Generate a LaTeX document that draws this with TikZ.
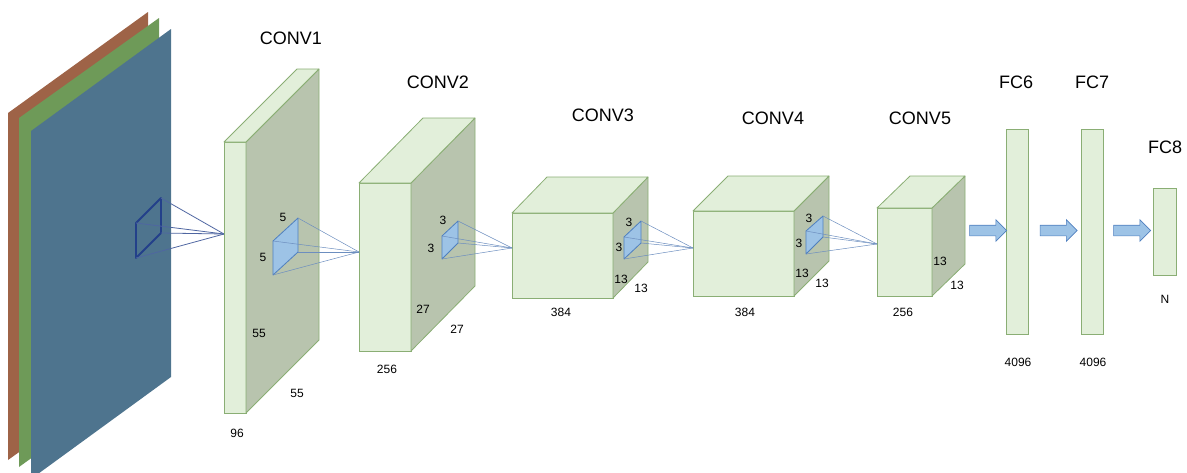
\documentclass[tikz,border=0pt]{standalone}
\usepackage{fontspec}
\setmainfont{Liberation Sans}
\usepackage{xcolor}
\usepackage{tikz}
\definecolor{facegreen}{RGB}{226, 239, 218}
\definecolor{sidegreen}{RGB}{184, 196, 174}
\definecolor{edgegreen}{RGB}{138, 174, 116}
\definecolor{kernelblue}{RGB}{157, 195, 230}
\definecolor{kerneledge}{RGB}{79, 127, 191}
\definecolor{rayblue}{RGB}{108, 142, 191}
\definecolor{imgred}{RGB}{158, 99, 71}
\definecolor{imggreen}{RGB}{110, 154, 88}
\definecolor{imgblue}{RGB}{78, 116, 142}
\definecolor{windowblue}{RGB}{35, 64, 138}
\usetikzlibrary{shapes, arrows, positioning, calc}

\begin{document}
\begin{tikzpicture}[
    x=1pt, y=-1pt,
    face/.style={rectangle, draw=edgegreen, fill=facegreen, inner sep=0pt, outer sep=0pt, line width=0.8pt},
    side/.style={draw=edgegreen, fill=sidegreen, line width=0.8pt, line join=round},
    topface/.style={draw=edgegreen, fill=facegreen, line width=0.8pt, line join=round},
    kernel/.style={draw=kerneledge, fill=kernelblue, line width=0.8pt, line join=round},
    ray/.style={draw=rayblue, line width=0.5pt},
    title/.style={font=\fontsize{18}{20}\selectfont},
    dim/.style={font=\fontsize{12}{14}\selectfont},
    fcarrow/.style={single arrow, draw=kerneledge, fill=kernelblue, line width=0.6pt, minimum height=37pt, inner xsep=0pt, inner ysep=5pt, single arrow head extend=5.5pt}
]
    \clip (0,0) rectangle (1187,472);

    % input image
    \fill[imgred] (8,113) -- (148,12) -- (148,360) -- (8,460) -- cycle;
    \fill[imggreen] (19,118) -- (159,18) -- (159,366) -- (19,467) -- cycle;
    \fill[imgblue] (31,131) -- (171,29) -- (171,377) -- (31,479) -- cycle;

    \coordinate (w1) at (136,223);
    \coordinate (w2) at (161,198);
    \coordinate (w3) at (161,233);
    \coordinate (w4) at (136,258);
    \coordinate (in1) at (224,234);
    \draw[windowblue, line width=1.8pt, line join=round] (w1) -- (w2) -- (w3) -- (w4) -- cycle;
    \foreach \c in {w1, w2, w3, w4}
        \draw[draw=windowblue!80, line width=0.8pt] (\c) -- (in1);

    % conv layers
    \node[face, minimum width=22pt, minimum height=271pt] (conv1) at (235,277.5) {};
    \filldraw[side] (conv1.north east) -- ++(73,-73) -- ++(0,271) -- (conv1.south east) -- cycle;
    \filldraw[topface] (conv1.north west) -- ++(73,-73) -- ++(22,0) -- (conv1.north east) -- cycle;

    \node[face, minimum width=52pt, minimum height=168pt] (conv2) at (385,267) {};
    \filldraw[side] (conv2.north east) -- ++(64,-65) -- ++(0,168) -- (conv2.south east) -- cycle;
    \filldraw[topface] (conv2.north west) -- ++(64,-65) -- ++(52,0) -- (conv2.north east) -- cycle;

    \node[face, minimum width=101pt, minimum height=85pt] (conv3) at (562.5,255.5) {};
    \filldraw[side] (conv3.north east) -- ++(35,-36) -- ++(0,85) -- (conv3.south east) -- cycle;
    \filldraw[topface] (conv3.north west) -- ++(35,-36) -- ++(101,0) -- (conv3.north east) -- cycle;

    \node[face, minimum width=101pt, minimum height=85pt] (conv4) at (743.5,253.5) {};
    \filldraw[side] (conv4.north east) -- ++(35,-35) -- ++(0,85) -- (conv4.south east) -- cycle;
    \filldraw[topface] (conv4.north west) -- ++(35,-35) -- ++(101,0) -- (conv4.north east) -- cycle;

    \node[face, minimum width=55pt, minimum height=88pt] (conv5) at (904.5,252) {};
    \filldraw[side] (conv5.north east) -- ++(33,-32) -- ++(0,88) -- (conv5.south east) -- cycle;
    \filldraw[topface] (conv5.north west) -- ++(33,-32) -- ++(55,0) -- (conv5.north east) -- cycle;

    % kernels
    \coordinate (in2) at (359,252);
    \coordinate (in3) at (512,248);
    \coordinate (in4) at (693,248);
    \coordinate (in5) at (877,244);

    \filldraw[kernel] (273,241) coordinate (k1a) -- (298,218) coordinate (k1b) -- (298,252) coordinate (k1c) -- (273,275) coordinate (k1d) -- cycle;
    \foreach \c in {k1a, k1b, k1c, k1d}
        \draw[ray] (\c) -- (in2);

    \filldraw[kernel] (442,236) coordinate (k2a) -- (458,221) coordinate (k2b) -- (458,243) coordinate (k2c) -- (442,259) coordinate (k2d) -- cycle;
    \foreach \c in {k2a, k2b, k2c, k2d}
        \draw[ray] (\c) -- (in3);

    \filldraw[kernel] (624,237) coordinate (k3a) -- (641,221) coordinate (k3b) -- (641,243) coordinate (k3c) -- (624,259) coordinate (k3d) -- cycle;
    \foreach \c in {k3a, k3b, k3c, k3d}
        \draw[ray] (\c) -- (in4);

    \filldraw[kernel] (806,231) coordinate (k4a) -- (823,216) coordinate (k4b) -- (823,237) coordinate (k4c) -- (806,254) coordinate (k4d) -- cycle;
    \foreach \c in {k4a, k4b, k4c, k4d}
        \draw[ray] (\c) -- (in5);

    % fully connected
    \node[face, minimum width=22pt, minimum height=205pt] (fc6) at (1017,231.5) {};
    \node[face, minimum width=22pt, minimum height=205pt] (fc7) at (1092,231.5) {};
    \node[face, minimum width=23pt, minimum height=87pt] (fc8) at (1164.5,231.5) {};

    \node[fcarrow] (arr6) at (985.5,230.5) {};
    \node[fcarrow] (arr7) at (1056,230.5) {};
    \node[fcarrow] (arr8) at (1129.5,230.5) {};

    % labels
    \node[title] (lconv1) at (291,38) {CONV1};
    \node[title] (lconv2) at (438,82) {CONV2};
    \node[title] (lconv3) at (603,115) {CONV3};
    \node[title] (lconv4) at (773,118) {CONV4};
    \node[title] (lconv5) at (920,118) {CONV5};
    \node[title] (lfc6) at (1016,82) {FC6};
    \node[title] (lfc7) at (1092,82) {FC7};
    \node[title] (lfc8) at (1165,147) {FC8};

    \node[dim] (d1a) at (283,217) {5};
    \node[dim] (d1b) at (263,257) {5};
    \node[dim] (d1c) at (259,333) {55};
    \node[dim] (d1d) at (297,393) {55};
    \node[dim] (d1e) at (237,433) {96};

    \node[dim] (d2a) at (443,220) {3};
    \node[dim] (d2b) at (431,248) {3};
    \node[dim] (d2c) at (423,309) {27};
    \node[dim] (d2d) at (457,329) {27};
    \node[dim] (d2e) at (387,369) {256};

    \node[dim] (d3a) at (629,222) {3};
    \node[dim] (d3b) at (619,247) {3};
    \node[dim] (d3c) at (621,279) {13};
    \node[dim] (d3d) at (641,288) {13};
    \node[dim] (d3e) at (561,312) {384};

    \node[dim] (d4a) at (809,218) {3};
    \node[dim] (d4b) at (799,243) {3};
    \node[dim] (d4c) at (802,273) {13};
    \node[dim] (d4d) at (822,283) {13};
    \node[dim] (d4e) at (745,312) {384};

    \node[dim] (d5a) at (940,261) {13};
    \node[dim] (d5b) at (957,285) {13};
    \node[dim] (d5c) at (903,312) {256};

    \node[dim] (d6) at (1018,362) {4096};
    \node[dim] (d7) at (1093,362) {4096};
    \node[dim] (d8) at (1165,299) {N};
\end{tikzpicture}
\end{document}
